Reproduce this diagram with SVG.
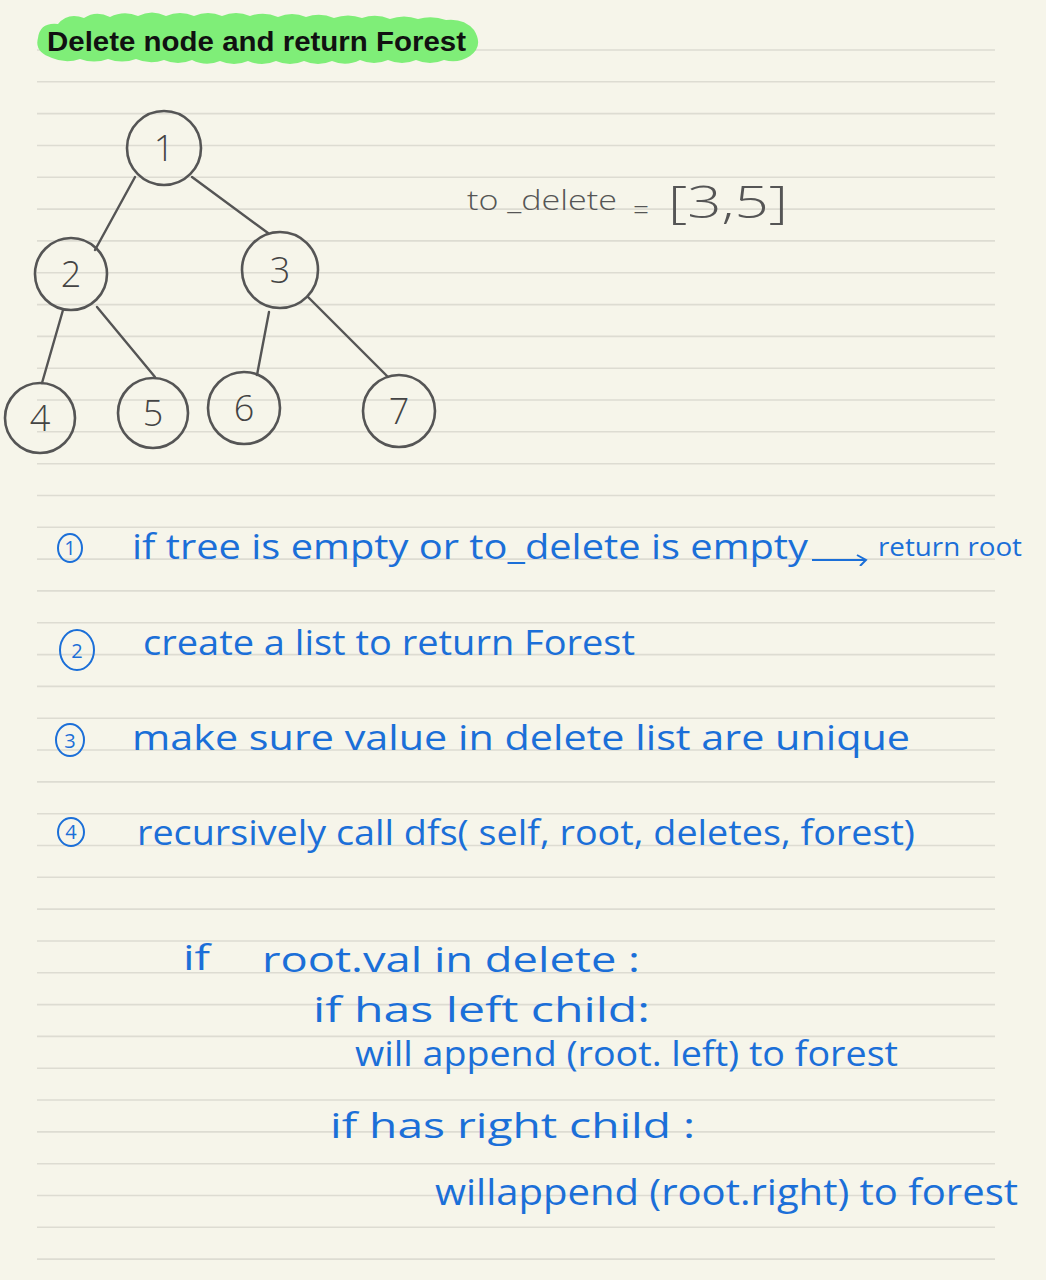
<svg xmlns="http://www.w3.org/2000/svg" width="1046" height="1280" viewBox="0 0 1046 1280">
<style>
.rule{stroke:#dddcd2;stroke-width:1.6;fill:none}
.node circle{fill:none;stroke:#555;stroke-width:2.6}
.node text{font-family:"Open Sans","Liberation Sans",sans-serif;font-size:36px;font-weight:300;fill:#444;text-anchor:middle}
.edge{stroke:#555;stroke-width:2.4;fill:none;stroke-linecap:round}
.hand{font-family:"Open Sans","Liberation Sans",sans-serif;font-weight:400;fill:#1b6fd8}
.gray{font-family:"Open Sans","Liberation Sans",sans-serif;font-weight:300;fill:#555}
.num{fill:none;stroke:#1b6fd8;stroke-width:2}
.numt{font-family:"Open Sans","Liberation Sans",sans-serif;font-size:20px;fill:#1b6fd8;text-anchor:middle}
</style>
<defs>
<marker id="ah" viewBox="0 0 12 12" refX="10" refY="6" markerWidth="12" markerHeight="12" markerUnits="userSpaceOnUse" orient="auto">
<path d="M1,1 L10,6 L4,12" fill="none" stroke="#1b6fd8" stroke-width="2"/>
</marker>
</defs>
<rect width="1046" height="1280" fill="#f6f5ea"/>
<path class="rule" d="M37,50H995M37,81.8H995M37,113.6H995M37,145.5H995M37,177.3H995M37,209.1H995M37,240.9H995M37,272.7H995M37,304.6H995M37,336.4H995M37,368.2H995M37,400H995M37,431.8H995M37,463.7H995M37,495.5H995M37,527.3H995M37,559.1H995M37,590.9H995M37,622.8H995M37,654.6H995M37,686.4H995M37,718.2H995M37,750H995M37,781.9H995M37,813.7H995M37,845.5H995M37,877.3H995M37,909.1H995M37,941H995M37,972.8H995M37,1004.6H995M37,1036.4H995M37,1068.2H995M37,1100H995M37,1131.9H995M37,1163.7H995M37,1195.5H995M37,1227.3H995M37,1259.1H995"/>

<g id="title">
<path d="M38,38 Q40,22 58,24 Q68,12 84,18 Q96,10 110,17 Q124,10 138,16 Q152,9 166,16 Q180,10 194,16 Q208,10 222,16 Q236,10 250,16 Q264,11 278,17 Q292,11 306,17 Q320,12 334,18 Q348,13 362,18 Q376,13 390,19 Q404,14 418,19 Q432,15 446,20 Q464,18 474,30 Q484,46 470,56 Q458,64 444,60 Q430,66 416,60 Q402,66 388,60 Q374,66 360,60 Q346,67 332,61 Q318,67 304,61 Q290,67 276,61 Q262,67 248,61 Q234,67 220,61 Q206,67 192,60 Q178,66 164,60 Q150,65 136,59 Q122,64 108,59 Q94,64 80,59 Q66,64 52,58 Q34,52 38,38 Z" fill="#7fee78"/>
<text x="47" y="51" font-family="Liberation Sans,Arial,sans-serif" font-weight="bold" font-size="28" fill="#111" textLength="419" lengthAdjust="spacingAndGlyphs">Delete node and return Forest</text>
</g>

<g id="connectors">
<line class="edge" x1="135" y1="177" x2="95" y2="250"/>
<line class="edge" x1="192" y1="177" x2="268" y2="233"/>
<line class="edge" x1="63" y1="310" x2="42" y2="383"/>
<line class="edge" x1="97" y1="307" x2="155" y2="377"/>
<line class="edge" x1="269" y1="312" x2="257" y2="375"/>
<line class="edge" x1="308" y1="297" x2="388" y2="377"/>
</g>

<g id="node-1" class="node"><circle cx="164" cy="148" r="37"/><text x="164" y="161">1</text></g>
<g id="node-2" class="node"><circle cx="71" cy="274" r="36"/><text x="71" y="287">2</text></g>
<g id="node-3" class="node"><circle cx="280" cy="270" r="38"/><text x="280" y="283">3</text></g>
<g id="node-4" class="node"><circle cx="40" cy="418" r="35"/><text x="40" y="431">4</text></g>
<g id="node-5" class="node"><circle cx="153" cy="413" r="35"/><text x="153" y="426">5</text></g>
<g id="node-6" class="node"><circle cx="244" cy="408" r="36"/><text x="244" y="421">6</text></g>
<g id="node-7" class="node"><circle cx="399" cy="411" r="36"/><text x="399" y="424">7</text></g>

<g id="to-delete">
<text class="gray" x="467" y="210" font-size="28" textLength="150" lengthAdjust="spacingAndGlyphs">to _delete</text>
<text class="gray" x="633" y="220" font-size="28">=</text>
<text class="gray" x="668" y="218" font-size="44" textLength="120" lengthAdjust="spacingAndGlyphs">[3,5]</text>
</g>

<g id="step-1">
<ellipse class="num" cx="70" cy="548" rx="12" ry="14"/><text class="numt" x="70" y="555">1</text>
<text class="hand" x="132" y="559" font-size="34" textLength="676" lengthAdjust="spacingAndGlyphs">if  tree is  empty  or  to_delete  is  empty</text>
<line x1="812" y1="560" x2="866" y2="560" stroke="#1b6fd8" stroke-width="2" marker-end="url(#ah)"/>
<text class="hand" x="878" y="556" font-size="26" textLength="144" lengthAdjust="spacingAndGlyphs">return root</text>
</g>

<g id="step-2">
<ellipse class="num" cx="77" cy="650" rx="17" ry="20"/><text class="numt" x="77" y="658" font-size="24">2</text>
<text class="hand" x="143" y="655" font-size="34" textLength="492" lengthAdjust="spacingAndGlyphs">create  a  list  to  return  Forest</text>
</g>

<g id="step-3">
<ellipse class="num" cx="70" cy="740" rx="14" ry="16"/><text class="numt" x="70" y="748" font-size="22">3</text>
<text class="hand" x="132" y="750" font-size="34" textLength="778" lengthAdjust="spacingAndGlyphs">make  sure  value  in  delete  list  are  unique</text>
</g>

<g id="step-4">
<ellipse class="num" cx="71" cy="832" rx="13" ry="14"/><text class="numt" x="71" y="839">4</text>
<text class="hand" x="137" y="845" font-size="34" textLength="778" lengthAdjust="spacingAndGlyphs">recursively  call dfs( self, root, deletes, forest)</text>
</g>

<g id="code">
<text class="hand" x="183" y="970" font-size="34" textLength="27" lengthAdjust="spacingAndGlyphs">if</text>
<text class="hand" x="262" y="972" font-size="34" textLength="378" lengthAdjust="spacingAndGlyphs">root.val  in  delete :</text>
<text class="hand" x="313" y="1022" font-size="34" textLength="337" lengthAdjust="spacingAndGlyphs">if  has  left child:</text>
<text class="hand" x="355" y="1066" font-size="34" textLength="543" lengthAdjust="spacingAndGlyphs">will  append  (root. left)  to  forest</text>
<text class="hand" x="330" y="1138" font-size="34" textLength="365" lengthAdjust="spacingAndGlyphs">if  has  right  child :</text>
<text class="hand" x="435" y="1205" font-size="36" textLength="583" lengthAdjust="spacingAndGlyphs">willappend (root.right) to forest</text>
</g>
</svg>
